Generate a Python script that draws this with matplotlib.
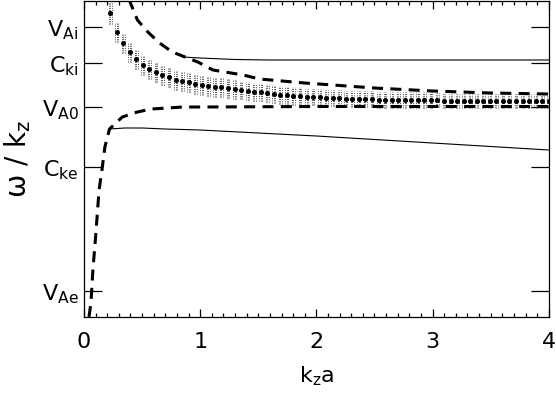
import numpy as np
import matplotlib
matplotlib.use("Agg")
import matplotlib.pyplot as plt
from matplotlib.ticker import MultipleLocator
import matplotlib.transforms as mtransforms

plt.rcParams.update({
    "font.family": "DejaVu Sans",
    "mathtext.default": "regular",
    "axes.linewidth": 0.9,
})

# ── characteristic speeds (arbitrary units) ────────────────────────────────────
speed_ticks = [0.26, 1.50, 2.10, 2.54, 2.90]
speed_labels = [r"V$_{\rm Ae}$", r"C$_{\rm ke}$", r"V$_{\rm A0}$",
                r"C$_{\rm ki}$", r"V$_{\rm Ai}$"]

# ── upper (dashed) branch ──────────────────────────────────────────────────────
k_up_dash = [0.36, 0.40, 0.46, 0.55, 0.65, 0.76, 0.87, 0.98, 1.11, 1.37,
             1.51, 1.90, 2.50, 3.00, 3.50, 4.00]
w_up_dash = [3.30, 3.14, 2.97, 2.85, 2.74, 2.65, 2.60, 2.55, 2.47, 2.42,
             2.38, 2.34, 2.29, 2.26, 2.24, 2.23]

# ── upper (solid) branch ───────────────────────────────────────────────────────
k_up_sol = [0.85, 1.00, 1.30, 1.60, 2.00, 3.00, 4.00]
w_up_sol = [2.60, 2.59, 2.575, 2.57, 2.57, 2.57, 2.57]

# ── lower (dashed) branch ──────────────────────────────────────────────────────
k_lo_dash = [0.043, 0.060, 0.077, 0.100, 0.130, 0.155, 0.180, 0.220, 0.330,
             0.460, 0.580, 0.720, 0.850, 1.000, 2.000, 3.000, 4.000]
w_lo_dash = [0.00, 0.14, 0.47, 0.80, 1.27, 1.47, 1.70, 1.88, 2.00,
             2.05, 2.08, 2.09, 2.10, 2.10, 2.105, 2.105, 2.105]

# ── lower (solid) branch ───────────────────────────────────────────────────────
k_lo_sol = [0.22, 0.35, 0.50, 0.70, 1.00, 2.00, 3.00, 4.00]
w_lo_sol = [1.88, 1.89, 1.89, 1.88, 1.87, 1.81, 1.74, 1.67]

# ── simulated points with error bars ───────────────────────────────────────────
k_sim = np.linspace(0.225, 4.0, 68)
w_sim = [3.04, 2.85, 2.74, 2.65, 2.58, 2.52, 2.48, 2.45, 2.42, 2.40,
         2.37, 2.36, 2.35, 2.33, 2.32, 2.31, 2.30, 2.30, 2.29, 2.28,
         2.27, 2.26, 2.25, 2.25, 2.24, 2.23, 2.22, 2.22, 2.21, 2.21,
         2.20, 2.20, 2.20, 2.19, 2.19, 2.19, 2.18, 2.18, 2.18, 2.18,
         2.18, 2.17, 2.17, 2.17, 2.17, 2.17, 2.17, 2.17, 2.17, 2.17,
         2.17, 2.16, 2.16, 2.16, 2.16, 2.16, 2.16, 2.16, 2.16, 2.16,
         2.16, 2.16, 2.16, 2.16, 2.16, 2.16, 2.16, 2.16]
e_sim = [0.11, 0.10, 0.10, 0.10, 0.10, 0.10, 0.10, 0.10, 0.10, 0.10,
         0.10, 0.10, 0.10, 0.10, 0.10, 0.10, 0.10, 0.10, 0.10, 0.10,
         0.09, 0.09, 0.09, 0.09, 0.09, 0.09, 0.09, 0.09, 0.09, 0.09,
         0.08, 0.08, 0.08, 0.08, 0.08, 0.08, 0.08, 0.08, 0.08, 0.08,
         0.08, 0.08, 0.08, 0.08, 0.08, 0.08, 0.08, 0.08, 0.08, 0.08,
         0.07, 0.07, 0.07, 0.07, 0.07, 0.07, 0.07, 0.07, 0.07, 0.07,
         0.07, 0.07, 0.07, 0.07, 0.07, 0.07, 0.07, 0.07]

# ── figure ─────────────────────────────────────────────────────────────────────
fig = plt.figure(figsize=(5.56, 3.99), dpi=100)
ax = fig.add_axes([0.151, 0.2055, 0.836, 0.792])

dash_kw = dict(color="black", lw=2.2, ls=(0, (3.6, 2.4)), dash_capstyle="butt")
ax.plot(k_up_dash, w_up_dash, **dash_kw, zorder=4)
ax.plot(k_lo_dash, w_lo_dash, **dash_kw, zorder=4)
ax.plot(k_up_sol, w_up_sol, color="black", lw=0.8, zorder=3)
ax.plot(k_lo_sol, w_lo_sol, color="black", lw=0.8, zorder=3)

# error bars drawn as a few parallel dotted strokes
lo = np.array(w_sim) - np.array(e_sim)
hi = np.array(w_sim) + np.array(e_sim)
for dx in (-1.4, 0.0, 1.4):
    tr = mtransforms.offset_copy(ax.transData, fig=fig, x=dx, y=0, units="dots")
    ax.vlines(k_sim, lo, hi, colors="0.3", lw=0.7, linestyles=(0, (1, 1.3)),
              transform=tr, zorder=2)
ax.plot(k_sim, w_sim, ls="none", marker="o", ms=2.6, color="black", zorder=5)

# ── axes ───────────────────────────────────────────────────────────────────────
ax.set_xlim(0, 4)
ax.set_ylim(0, 3.16)
ax.xaxis.set_major_locator(MultipleLocator(1))
ax.xaxis.set_minor_locator(MultipleLocator(0.1))
ax.set_yticks(speed_ticks)
ax.set_yticklabels(speed_labels)
ax.tick_params(axis="x", which="major", direction="in", length=6, width=0.9,
               top=True, labelsize=16, pad=11)
ax.tick_params(axis="x", which="minor", direction="in", length=3, width=0.9,
               top=True)
ax.tick_params(axis="y", direction="in", length=13, width=0.9, right=True,
               labelsize=16, pad=4)

ax.set_xlabel(r"k$_z$a", fontsize=16, labelpad=9)
ax.set_ylabel(r"$\omega$ / k$_z$", fontsize=20, labelpad=6)

fig.savefig("out.png", dpi=100)
